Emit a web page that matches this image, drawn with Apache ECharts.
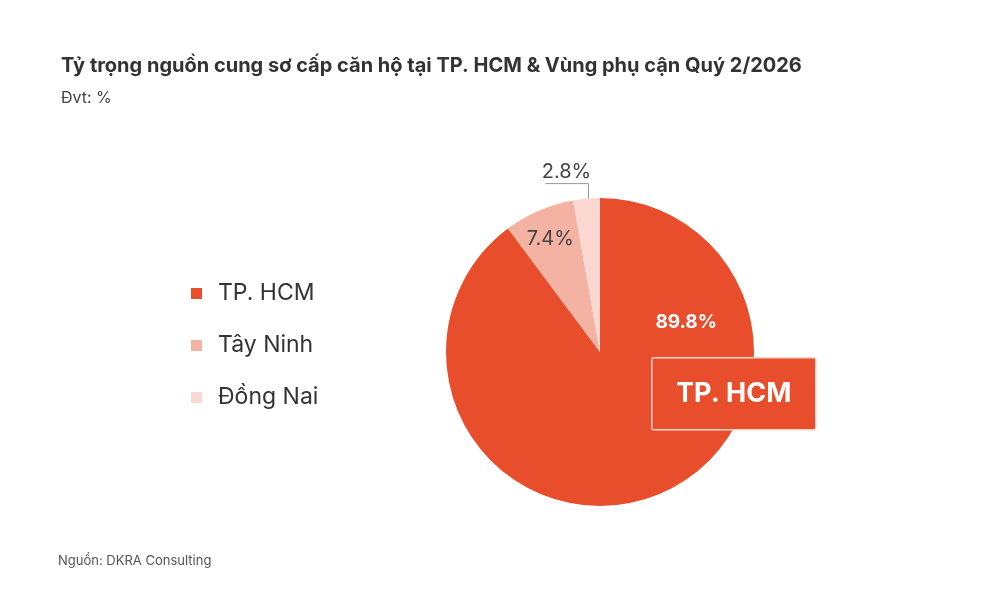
<!DOCTYPE html>
<html><head><meta charset="utf-8">
<script src="https://cdn.jsdelivr.net/npm/echarts@6/dist/echarts.min.js"></script>
<style>html,body{margin:0;padding:0;background:#fff}#c{width:1000px;height:611px}</style>
</head><body><div id="c"></div>
<script>
const titleText = 'Tỷ trọng nguồn cung sơ cấp căn hộ tại TP. HCM & Vùng phụ cận Quý 2/2026';
const unitText = 'Đvt: %';
const sourceText = 'Nguồn: DKRA Consulting';
const categories = ['TP. HCM', 'Tây Ninh', 'Đồng Nai'];
const values = [89.8, 7.4, 2.8];
const colors = ['#E94E2C', '#F4B2A3', '#FAD8D1'];
const highlightName = 'TP. HCM';

const FONT = 'Inter';
const chart = echarts.init(document.getElementById('c'), null, {renderer: 'canvas'});

const data = categories.map((c, i) => {
  const d = {name: c, value: values[i], itemStyle: {color: colors[i]}};
  if (i === 0) d.label = {position: 'inside', offset: [61, -106], color: '#fff', fontSize: 19, fontWeight: 'bold'};
  else if (i === 1) d.label = {position: 'inside', offset: [-18, -40], color: '#444', fontSize: 20};
  else d.label = {position: 'outside', color: '#444', fontSize: 20};
  d.labelLine = {show: i === 2};
  return d;
});

chart.setOption({
  backgroundColor: '#fff',
  textStyle: {fontFamily: FONT},
  title: [
    {text: titleText, left: 56, top: 51, textStyle: {fontFamily: FONT, fontSize: 20, fontWeight: 'bold', color: '#333'}},
    {text: unitText, left: 56, top: 85, textStyle: {fontFamily: FONT, fontSize: 16, fontWeight: 'normal', color: '#444'}},
    {text: sourceText, left: 53, top: 550, textStyle: {fontFamily: FONT, fontSize: 13, fontWeight: 'normal', color: '#555'}}
  ],
  legend: {
    orient: 'vertical', left: 186, top: 277, itemWidth: 11, itemHeight: 11, itemGap: 29, icon: 'rect',
    textStyle: {fontFamily: FONT, fontSize: 23, color: '#333', padding: [0, 0, 0, 11]},
    data: categories
  },
  series: [{
    type: 'pie', center: [600, 352], radius: [0, 154], startAngle: 90, clockwise: true,
    silent: true, itemStyle: {borderWidth: 0},
    label: {formatter: p => p.value.toFixed(1) + '%', fontFamily: FONT},
    labelLine: {length: 16, length2: 40, showAbove: true, maxSurfaceAngle: 180, minTurnAngle: 0, lineStyle: {color: '#999', width: 1}},
    labelLayout: function (p) {
      if (p.dataIndex !== 2 || !p.labelLinePoints) return {};
      const x0 = p.labelLinePoints[0][0], y0 = p.labelLinePoints[0][1];
      const yTop = y0 - 15;
      return {
        labelLinePoints: [[x0 + 2, y0 + 19], [x0 + 2, yTop], [x0 - 41, yTop]],
        x: x0 - 20, y: yTop - 2, align: 'center', verticalAlign: 'bottom'
      };
    },
    data: data
  }],
  graphic: [{
    type: 'group', left: 651, top: 357, z: 100,
    children: [
      {type: 'rect', z: 100, shape: {x: 0, y: 0, width: 164, height: 72, r: 2}, style: {fill: '#E94E2C', stroke: '#F8D3CA', lineWidth: 1.5}},
      {type: 'text', z: 101, x: 82, y: 36, style: {text: highlightName, fill: '#fff', font: 'bold 27px ' + FONT, textAlign: 'center', textVerticalAlign: 'middle'}}
    ]
  }]
});
</script></body></html>
